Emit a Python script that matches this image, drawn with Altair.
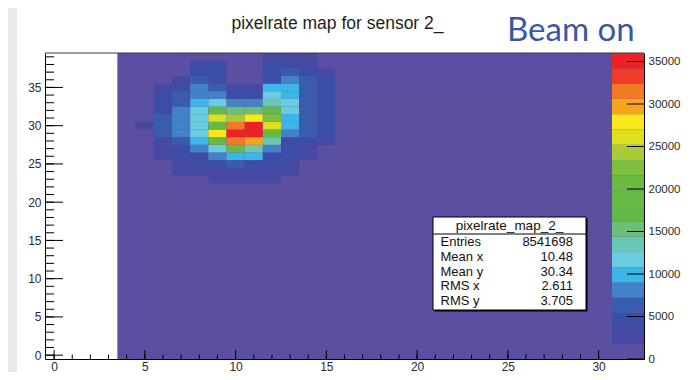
import altair as alt
import pandas as pd

# ---------------- data ----------------
x_bins = list(range(0, 33))          # bin centres along x (bin width 1)
y_bins = list(range(0, 40))          # bin centres along y (bin height 1)
filled_x = list(range(4, 33))        # columns that hold entries (0..3 are empty)
background_count = 600               # low-rate pixels (first colour band)

hot_x = [5, 6, 7, 8, 9, 10, 11, 12, 13, 14, 15, 16]
hot_y = [39, 38, 37, 36, 35, 34, 33, 32, 31, 30, 29, 28, 27, 26, 25, 24, 23]
hot_counts = [
    [600, 600, 600, 600, 600, 600, 600, 2700, 2700, 2700, 600, 600],
    [600, 600, 600, 4500, 4500, 600, 600, 4500, 4500, 2700, 600, 600],
    [600, 600, 600, 4500, 4500, 600, 600, 4500, 6300, 4500, 2700, 600],
    [600, 600, 2700, 6300, 4500, 600, 600, 4500, 8100, 6300, 4500, 600],
    [600, 2700, 4500, 8100, 6300, 2700, 2700, 9900, 9900, 6300, 4500, 600],
    [600, 4500, 6300, 8100, 8100, 4500, 4500, 11700, 9900, 6300, 4500, 600],
    [600, 4500, 6300, 9900, 11700, 8100, 8100, 13500, 11700, 6300, 4500, 600],
    [600, 4500, 8100, 11700, 17100, 15300, 15300, 17100, 11700, 6300, 4500, 600],
    [600, 6300, 8100, 11700, 26100, 24300, 27900, 22500, 9900, 6300, 4500, 600],
    [2700, 6300, 8100, 11700, 17100, 31500, 35900, 26100, 9900, 6300, 4500, 600],
    [600, 6300, 8100, 11700, 27900, 35100, 35300, 18900, 8100, 6300, 4500, 600],
    [600, 2700, 6300, 9900, 17100, 31500, 29700, 13500, 4500, 4500, 2700, 600],
    [600, 2700, 4500, 8100, 11700, 17100, 13500, 8100, 4500, 2700, 600, 600],
    [600, 2700, 4500, 4500, 8100, 9900, 9900, 4500, 4500, 2700, 600, 600],
    [600, 600, 2700, 4500, 4500, 6300, 4500, 4500, 2700, 600, 600, 600],
    [600, 600, 2700, 2700, 2700, 2700, 2700, 2700, 2700, 600, 600, 600],
    [600, 600, 600, 600, 2700, 2700, 2700, 2700, 600, 600, 600, 600],
]

# colour contours (20 bands of 1800)
levels = [0, 1800, 3600, 5400, 7200, 9000, 10800, 12600, 14400, 16200, 18000,
          19800, 21600, 23400, 25200, 27000, 28800, 30600, 32400, 34200, 36000]
pal_colors = ["#5A4FA0", "#4649A2", "#3B4DA6", "#395CAD", "#4482C6", "#3CB5E8",
              "#6CCCDF", "#6AC7B5", "#6BBF76", "#64B947", "#66BA45", "#6BBB43",
              "#7EBF3D", "#A9CB3A", "#DDE021", "#FAE81A", "#F6A61D", "#F17A24",
              "#EE3D2B", "#EB2227"]

x_major = [0, 5, 10, 15, 20, 25, 30]
y_major = [0, 5, 10, 15, 20, 25, 30, 35]
pal_ticks = [0, 5000, 10000, 15000, 20000, 25000, 30000, 35000]

title_text = "pixelrate map for sensor 2_"
beam_text = "Beam on"
stat_title = "pixelrate_map_2_"
stat_names = ["Entries", "Mean x", "Mean y", "RMS x", "RMS y"]
stat_values = ["8541698", "10.48", "30.34", "2.611", "3.705"]

# ---------------- tables ----------------
rows = []
for xi in filled_x:
    for yj in y_bins:
        c = background_count
        if xi in hot_x and yj in hot_y:
            c = hot_counts[hot_y.index(yj)][hot_x.index(xi)]
        rows.append({"x": xi, "y": yj, "count": c})
cells_df = pd.DataFrame(rows)
bg_df = pd.DataFrame([{"x0": filled_x[0] - 0.5, "x1": filled_x[-1] + 0.5,
                       "y0": y_bins[0] - 0.5, "y1": y_bins[-1] + 0.5,
                       "count": background_count}])
band_df = pd.DataFrame({"lo": levels[:-1], "hi": levels[1:]})
band_df["mid"] = (band_df["lo"] + band_df["hi"]) / 2
stats_df = pd.DataFrame({"name": stat_names, "val": stat_values,
                         "row": list(range(len(stat_names)))})
one = pd.DataFrame({"k": [0]})

W, H = 599, 306
FONT = "Liberation Sans"
LAB = "#2b2b2b"

xs = alt.Scale(domain=[x_bins[0] - 0.5, x_bins[-1] + 0.5], nice=False, zero=False)
ys = alt.Scale(domain=[y_bins[0] - 0.5, y_bins[-1] + 0.5], nice=False, zero=False)
ps = alt.Scale(domain=[levels[0], levels[-1]], nice=False, zero=False)
cs = alt.Scale(type="threshold", domain=levels[1:-1], range=pal_colors)

xax = alt.Axis(values=x_major, ticks=False, tickSize=0, domain=True, domainColor="black",
               labelFont=FONT, labelFontSize=12, labelColor=LAB, labelPadding=2,
               title=None, grid=False, zindex=2)
yax = alt.Axis(values=y_major, orient="left", ticks=False, tickSize=0, domain=True,
               domainColor="black", labelFont=FONT, labelFontSize=12, labelColor=LAB,
               labelPadding=4, title=None, grid=False, zindex=2)
pax = alt.Axis(values=pal_ticks, orient="right", ticks=False, tickSize=0, domain=True,
               domainColor="black", labelFont=FONT, labelFontSize=11.5, labelColor=LAB,
               labelPadding=4, title=None, grid=False, zindex=2, labelFlush=False,
               format="d")

color = alt.Color("count:Q", scale=cs, legend=None)

bg = alt.Chart(bg_df).mark_rect().encode(
    x=alt.X("x0:Q", scale=xs, axis=xax), x2="x1:Q",
    y=alt.Y("y0:Q", scale=ys, axis=yax), y2="y1:Q",
    color=color)

cells = alt.Chart(cells_df).mark_rect(strokeWidth=0).transform_calculate(
    x0="datum.x - 0.5", x1="datum.x + 0.5", y0="datum.y - 0.5", y1="datum.y + 0.5"
).encode(
    x=alt.X("x0:Q", scale=xs, axis=xax), x2="x1:Q",
    y=alt.Y("y0:Q", scale=ys, axis=yax), y2="y1:Q",
    color=color)

ytick_major = alt.Chart(pd.DataFrame({"v": y_major})).mark_rule(color="black").encode(
    y=alt.Y("v:Q", scale=ys, axis=yax), x=alt.value(0), x2=alt.value(18))
ytick_minor = alt.Chart(pd.DataFrame({"v": y_bins})).mark_rule(color="black").encode(
    y=alt.Y("v:Q", scale=ys, axis=yax), x=alt.value(0), x2=alt.value(9))
xtick_major = alt.Chart(pd.DataFrame({"v": x_major})).mark_rule(color="black").encode(
    x=alt.X("v:Q", scale=xs, axis=xax), y=alt.value(H), y2=alt.value(H - 9))
xtick_minor = alt.Chart(pd.DataFrame({"v": x_bins})).mark_rule(color="black").encode(
    x=alt.X("v:Q", scale=xs, axis=xax), y=alt.value(H), y2=alt.value(H - 4.5))

main = alt.layer(bg, cells, ytick_major, ytick_minor, xtick_major, xtick_minor)

pal_rect = alt.Chart(band_df).mark_rect(strokeWidth=0).encode(
    y=alt.Y("lo:Q", scale=ps, axis=pax), y2="hi:Q",
    x=alt.value(567), x2=alt.value(W),
    color=alt.Color("mid:Q", scale=cs, legend=None))
pal_tick = alt.Chart(pd.DataFrame({"v": pal_ticks})).mark_rule(color="black").encode(
    y=alt.Y("v:Q", scale=ps, axis=pax), x=alt.value(582), x2=alt.value(W))
palette = alt.layer(pal_rect, pal_tick)

# frame top line
top_line = alt.Chart(one).mark_rule(color="#3a3a3a").encode(
    x=alt.value(0), x2=alt.value(W), y=alt.value(0))

# statistics box
shadow = alt.Chart(one).mark_rect(color="black").encode(
    x=alt.value(389.5), x2=alt.value(542.5), y=alt.value(165.5), y2=alt.value(258.5))
box = alt.Chart(one).mark_rect(fill="white", stroke="black", strokeWidth=1).encode(
    x=alt.value(388), x2=alt.value(541), y=alt.value(164), y2=alt.value(257))
sep = alt.Chart(one).mark_rule(color="black").encode(
    x=alt.value(388), x2=alt.value(541), y=alt.value(181))
stitle = alt.Chart(one).mark_text(text=stat_title, font=FONT, fontSize=13.5, color="#111",
                                  align="center", baseline="middle").encode(
    x=alt.value(464.5), y=alt.value(172.5))
snames = alt.Chart(stats_df).mark_text(font=FONT, fontSize=13, color="#111", align="left",
                                       baseline="middle").transform_calculate(
    py="189 + datum.row * 14.8").encode(
    x=alt.value(395.5), y=alt.Y("py:Q", scale=None, axis=None), text="name:N")
svals = alt.Chart(stats_df).mark_text(font=FONT, fontSize=13, color="#111", align="right",
                                      baseline="middle").transform_calculate(
    py="189 + datum.row * 14.8").encode(
    x=alt.value(528), y=alt.Y("py:Q", scale=None, axis=None), text="val:N")

title = alt.Chart(one).mark_text(text=title_text, font=FONT, fontSize=17.5, color="#1e1e1e",
                                 align="center", baseline="alphabetic").encode(
    x=alt.value(292.5), y=alt.value(-24))
beam = alt.Chart(one).mark_text(text=beam_text, font="Lato", fontSize=33, fontWeight=400,
                                color="#3B56A6", align="left", baseline="alphabetic").encode(
    x=alt.value(462), y=alt.value(-12))
strip = alt.Chart(one).mark_rect(color="#e9e9e9").encode(
    x=alt.value(-37), x2=alt.value(-28), y=alt.value(-45), y2=alt.value(H + 13))

annot = alt.layer(strip, top_line, shadow, box, sep, stitle, snames, svals, title, beam)

chart = alt.layer(main, palette, annot).resolve_scale(y="independent").properties(
    width=W, height=H,
    padding={"left": 37, "top": 45, "right": 44, "bottom": 13},
    autosize=alt.AutoSizeParams(type="none"),
    background="white",
).configure_view(stroke=None)

chart.save("out.html", embed_options={"renderer": "svg", "actions": False})
